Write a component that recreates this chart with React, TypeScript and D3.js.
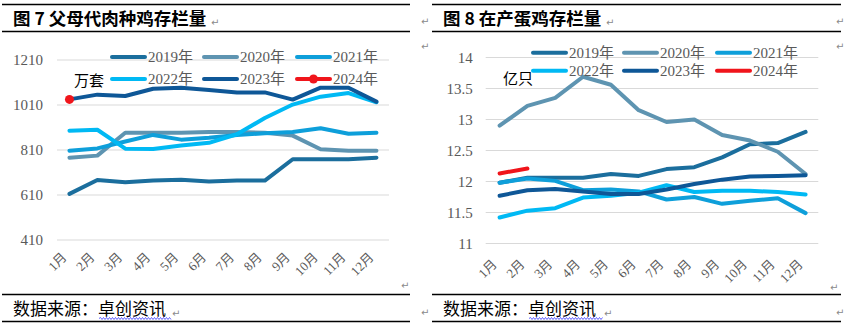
import React from 'react';
import * as d3 from 'd3';

const months = ['1月', '2月', '3月', '4月', '5月', '6月', '7月', '8月', '9月', '10月', '11月', '12月'];
const years = ['2019年', '2020年', '2021年', '2022年', '2023年', '2024年'];
const colors = ['#1B6E9D', '#5E94B1', '#0E9FDA', '#00B9F4', '#0E5797', '#F0151B'];

// 图7 父母代肉种鸡存栏量 (万套)
const broiler2019 = [615, 677, 667, 674, 678, 670, 674, 674, 769, 769, 769, 776];
const broiler2020 = [776, 785, 887, 887, 887, 890, 890, 887, 874, 813, 807, 807];
const broiler2021 = [807, 817, 848, 877, 856, 864, 877, 884, 890, 907, 882, 887];
const broiler2022 = [896, 900, 816, 814, 830, 842, 880, 952, 1012, 1047, 1063, 1022];
const broiler2023 = [1035, 1056, 1050, 1082, 1087, 1077, 1066, 1066, 1034, 1087, 1087, 1025];
const broiler2024 = [1035];
const broilerTicks = [410, 610, 810, 1010, 1210];

// 图8 在产蛋鸡存栏量 (亿只)
const layer2019 = [11.98, 12.06, 12.06, 12.06, 12.12, 12.09, 12.2, 12.23, 12.39, 12.6, 12.62, 12.8];
const layer2020 = [12.9, 13.22, 13.35, 13.69, 13.56, 13.15, 12.96, 13.0, 12.75, 12.66, 12.48, 12.12];
const layer2021 = [11.98, 12.05, 12.01, 11.86, 11.87, 11.84, 11.71, 11.75, 11.64, 11.69, 11.73, 11.49];
const layer2022 = [11.42, 11.53, 11.57, 11.74, 11.77, 11.82, 11.94, 11.83, 11.85, 11.85, 11.83, 11.79];
const layer2023 = [11.77, 11.86, 11.88, 11.84, 11.8, 11.8, 11.87, 11.96, 12.03, 12.08, 12.09, 12.1];
const layer2024 = [12.13, 12.21];
const layerTicks = [11, 11.5, 12, 12.5, 13, 13.5, 14];

const serif = '"Liberation Serif", "Noto Sans CJK SC", serif';
const cjk = '"Noto Sans CJK SC", sans-serif';

function Wavy({ x0, x1, y }: { x0: number; x1: number; y: number }) {
  let d = `M${x0},${y}`;
  for (let x = x0; x < x1; x += 1.5) {
    const yy = (Math.round((x - x0) / 1.5) % 2 === 0) ? y - 1 : y + 1;
    d += ` L${x + 1.5},${yy}`;
  }
  return <path d={d} fill="none" stroke="#3a3aff" strokeWidth={0.8} />;
}

function Mark({ x, y }: { x: number; y: number }) {
  return (
    <text x={x} y={y} fontSize={10} fill="#8a8a8a" fontFamily='"DejaVu Sans", sans-serif' dominantBaseline="central">↵</text>
  );
}

type PanelProps = {
  left: number;
  right: number;
  title: string;
  unit: string;
  unitX: number;
  unitY: number;
  series: number[][];
  domain: [number, number];
  yRange: [number, number];
  ticks: number[];
  xRange: [number, number];
  gridX: [number, number];
  labelRight: number;
  legendLines: number[];
  legendRows: number[];
  markerOn2024: boolean;
  catY: number;
  underline: [number, number];
};

function Panel(p: PanelProps) {
  const x = d3.scalePoint<string>().domain(months).range(p.xRange).padding(0.5);
  const y = d3.scaleLinear().domain(p.domain).range(p.yRange);
  const line = d3
    .line<number>()
    .x((_, i) => x(months[i]) as number)
    .y((d) => y(d));
  return (
    <g>
      {/* title rules */}
      <line x1={p.left} x2={p.right} y1={4.5} y2={4.5} stroke="#000" strokeWidth={1.3} />
      <line x1={p.left} x2={p.right} y1={31.5} y2={31.5} stroke="#000" strokeWidth={1.3} />
      <text x={p.left + 11} y={25} fontSize={17.5} fontWeight="bold" fontFamily={cjk} fill="#000">{p.title}</text>
      {/* grid */}
      {p.ticks.map((t) => (
        <g key={t}>
          <line x1={p.gridX[0]} x2={p.gridX[1]} y1={y(t)} y2={y(t)} stroke="#d9d9d9" strokeWidth={1} />
          <text x={p.labelRight} y={y(t)} textAnchor="end" dominantBaseline="central" fontSize={15} fill="#595959" fontFamily={serif}>
            {String(t)}
          </text>
        </g>
      ))}
      {/* categories */}
      {months.map((m) => (
        <text
          key={m}
          transform={`translate(${(x(m) as number) - 2},${p.catY}) rotate(-45)`}
          textAnchor="end"
          fontSize={13}
          fill="#595959"
          fontFamily={serif}
        >
          {m}
        </text>
      ))}
      {/* series */}
      {p.series.map((s, i) => (
        <path
          key={years[i]}
          d={line(s) || ''}
          fill="none"
          stroke={colors[i]}
          strokeWidth={4}
          strokeLinejoin="round"
          strokeLinecap="round"
        />
      ))}
      {p.markerOn2024 &&
        p.series[5].map((v, i) => <circle key={i} cx={x(months[i]) as number} cy={y(v)} r={4.5} fill={colors[5]} />)}
      {/* legend */}
      {years.map((yr, i) => {
        const col = i % 3;
        const row = Math.floor(i / 3);
        const lx = p.legendLines[col];
        const ly = p.legendRows[row];
        return (
          <g key={yr}>
            <line x1={lx} x2={lx + 33} y1={ly} y2={ly} stroke={colors[i]} strokeWidth={4} strokeLinecap="round" />
            {p.markerOn2024 && i === 5 && <circle cx={lx + 16.5} cy={ly} r={4.5} fill={colors[5]} />}
            <text x={lx + 36} y={ly} dominantBaseline="central" fontSize={15} fill="#595959" fontFamily={serif}>{yr}</text>
          </g>
        );
      })}
      <text x={p.unitX} y={p.unitY} dominantBaseline="central" fontSize={15} fill="#000" fontFamily={cjk}>{p.unit}</text>
      {/* source */}
      <line x1={p.left} x2={p.right} y1={294.5} y2={294.5} stroke="#000" strokeWidth={1.3} />
      <line x1={p.left} x2={p.right} y1={321.5} y2={321.5} stroke="#000" strokeWidth={1.3} />
      <text x={p.left + 11} y={314.5} fontSize={17} fill="#000" fontFamily={cjk}>数据来源：卓创资讯</text>
      <Wavy x0={p.underline[0]} x1={p.underline[1]} y={318.5} />
    </g>
  );
}

export default function App() {
  return (
    <svg width={845} height={326} style={{ position: 'absolute', left: 0, top: 0, background: '#fff' }}>
      <rect width={845} height={326} fill="#fff" />
      <Panel
        left={2}
        right={410}
        title="图 7 父母代肉种鸡存栏量"
        unit="万套"
        unitX={74}
        unitY={79}
        series={[broiler2019, broiler2020, broiler2021, broiler2022, broiler2023, broiler2024]}
        domain={[410, 1210]}
        yRange={[240, 60]}
        ticks={broilerTicks}
        xRange={[55.5, 390.4]}
        gridX={[57, 389]}
        labelRight={43}
        legendLines={[112, 204, 297]}
        legendRows={[57, 79]}
        markerOn2024={true}
        catY={258}
        underline={[99, 170]}
      />
      <Panel
        left={432}
        right={841}
        title="图 8 在产蛋鸡存栏量"
        unit="亿只"
        unitX={503}
        unitY={77}
        series={[layer2019, layer2020, layer2021, layer2022, layer2023, layer2024]}
        domain={[11, 14]}
        yRange={[243.5, 57.5]}
        ticks={layerTicks}
        xRange={[485.7, 819.5]}
        gridX={[485.7, 818.3]}
        labelRight={472.7}
        legendLines={[533, 624, 717]}
        legendRows={[52.7, 70.7]}
        markerOn2024={false}
        catY={265}
        underline={[529, 602]}
      />
      <Mark x={211} y={22} />
      <Mark x={606} y={22} />
      <Mark x={421} y={21} />
      <Mark x={421} y={46} />
      <Mark x={836} y={21} />
      <Mark x={836} y={46} />
      <Mark x={401} y={285} />
      <Mark x={830} y={287} />
      <Mark x={172} y={313} />
      <Mark x={604} y={313} />
      <Mark x={421} y={312} />
      <Mark x={836} y={312} />
    </svg>
  );
}
